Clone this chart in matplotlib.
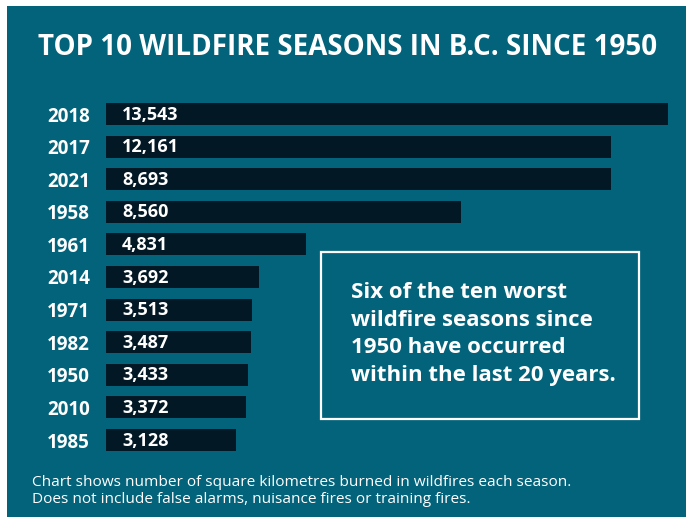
import matplotlib
matplotlib.use("Agg")
import matplotlib.pyplot as plt
from matplotlib.patches import Rectangle

# ---- data ----
years = ["2018", "2017", "2021", "1958", "1961", "2014", "1971", "1982", "1950", "2010", "1985"]
burned_km2 = [13543, 12161, 8693, 8560, 4831, 3692, 3513, 3487, 3433, 3372, 3128]
# bar lengths as drawn in the original graphic (2021 bar is drawn as long as 2017)
bar_lengths_km2 = [13543, 12161, 12161, 8560, 4831, 3692, 3513, 3487, 3433, 3372, 3128]
title = "TOP 10 WILDFIRE SEASONS IN B.C. SINCE 1950"
callout = "Six of the ten worst\nwildfire seasons since\n1950 have occurred\nwithin the last 20 years."
footnote = ("Chart shows number of square kilometres burned in wildfires each season.\n"
            "Does not include false alarms, nuisance fires or training fires.")

W, H = 686, 521
BG = "#03637a"
BAR = "#021824"
FONT = "Open Sans"

fig = plt.figure(figsize=(W / 100, H / 100), dpi=100, facecolor="white")

def fx(x):
    return x / W

def fy(y):
    return 1 - y / H

# teal panel
fig.patches.append(Rectangle((fx(7), fy(517)), fx(W) - fx(7), fy(6) - fy(517),
                             transform=fig.transFigure, facecolor=BG, edgecolor="none", zorder=-10))

fig.text(fx(348), fy(47), title, color="white", fontsize=20, fontweight="bold",
         family=FONT, ha="center", va="center")

# bar axes
step = 32.6
top_c, n = 114, len(years)
ax_top = top_c - step / 2
ax_bot = top_c + step * (n - 1) + step / 2
ax = fig.add_axes([fx(106), fy(ax_bot), fx(668) - fx(106), fy(ax_top) - fy(ax_bot)])
ax.set_facecolor("none")
pos = list(range(n))
ax.barh(pos, bar_lengths_km2, height=22 / step, color=BAR, edgecolor="none")
ax.set_xlim(0, max(bar_lengths_km2))
ax.set_ylim(n - 0.5, -0.5)
ax.set_yticks(pos)
ax.set_yticklabels(years, family=FONT, fontweight="bold", fontsize=13.5, color="white")
ax.tick_params(axis="y", length=0, pad=16 * 0.72)
ax.set_xticks([])
for s in ax.spines.values():
    s.set_visible(False)
for i, v in enumerate(burned_km2):
    ax.annotate(f"{v:,}", xy=(0, i), xytext=(16 * 0.72, -0.5), textcoords="offset points",
                ha="left", va="center", color="white", fontsize=13, fontweight="bold",
                family=FONT)

# callout box
fig.patches.append(Rectangle((fx(321), fy(419)), fx(639) - fx(321), fy(252) - fy(419),
                             transform=fig.transFigure, facecolor="none",
                             edgecolor="white", linewidth=1.6, zorder=3))
fig.text(fx(351), fy(334), callout, color="white", fontsize=16, fontweight="bold",
         family=FONT, ha="left", va="center", linespacing=1.4)

fig.text(fx(32), fy(491), footnote, color="white", fontsize=11.1, family=FONT,
         ha="left", va="center", linespacing=1.18)

fig.savefig("out.png", dpi=100, facecolor="white")
